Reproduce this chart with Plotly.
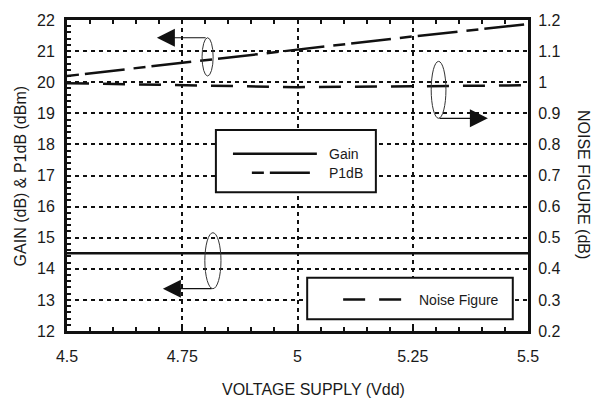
import plotly.graph_objects as go

# ---- data ----
vdd = [4.5, 4.75, 5.0, 5.25, 5.5]
gain_db = [14.5, 14.5, 14.5, 14.5, 14.5]
p1db_dbm = [20.2, 20.63, 21.05, 21.47, 21.87]
nf_db = [0.997, 0.99, 0.984, 0.987, 0.99]

x_ticks = [4.5, 4.75, 5.0, 5.25, 5.5]
x_ticklabels = ["4.5", "4.75", "5", "5.25", "5.5"]

INK = "#111111"
TXT = "#1a1a1a"
FONT = "Liberation Sans, Arial, Helvetica, sans-serif"
P1DB_DASH = "12px,6px,40px,9px"
NF_DASH = "22px,14px"

fig = go.Figure()
fig.add_trace(go.Scatter(x=vdd, y=gain_db, mode="lines", name="Gain",
                         line=dict(color=INK, width=2.5), yaxis="y"))
fig.add_trace(go.Scatter(x=vdd, y=p1db_dbm, mode="lines", name="P1dB",
                         line=dict(color=INK, width=2.5, dash=P1DB_DASH), yaxis="y"))
fig.add_trace(go.Scatter(x=vdd, y=nf_db, mode="lines", name="Noise Figure",
                         line=dict(color=INK, width=2.5, dash=NF_DASH), yaxis="y2"))

shapes = []
# legend box 1
shapes.append(dict(type="rect", xref="x", yref="y", x0=4.823, x1=5.170, y0=16.46, y1=18.46,
                   line=dict(color=INK, width=2), fillcolor="white", layer="above"))
shapes.append(dict(type="line", xref="x", yref="y", x0=4.860, x1=5.042, y0=17.70, y1=17.70,
                   line=dict(color=INK, width=2.5), layer="above"))
shapes.append(dict(type="line", xref="x", yref="y", x0=4.901, x1=5.033, y0=17.09, y1=17.09,
                   line=dict(color=INK, width=2.5, dash=P1DB_DASH), layer="above"))
# legend box 2
shapes.append(dict(type="rect", xref="x", yref="y", x0=5.021, x1=5.467, y0=12.38, y1=13.71,
                   line=dict(color=INK, width=2), fillcolor="white", layer="above"))
shapes.append(dict(type="line", xref="x", yref="y", x0=5.099, x1=5.229, y0=13.01, y1=13.01,
                   line=dict(color=INK, width=2.5, dash=NF_DASH), layer="above"))
# ellipses
for (x0, x1, y0, y1) in [(4.793, 4.817, 20.20, 21.43),
                         (5.290, 5.322, 18.84, 20.67),
                         (4.799, 4.834, 13.36, 15.16)]:
    shapes.append(dict(type="circle", xref="x", yref="y", x0=x0, x1=x1, y0=y0, y1=y1,
                       line=dict(color="#333333", width=1), layer="above"))

annotations = []
# arrows
for (xt, yt, xh, yh) in [(4.804, 21.43, 4.695, 21.43),
                         (5.305, 18.84, 5.413, 18.84),
                         (4.817, 13.36, 4.708, 13.36)]:
    annotations.append(dict(x=xh, y=yh, ax=xt, ay=yt, xref="x", yref="y", axref="x", ayref="y",
                            showarrow=True, arrowhead=2, arrowsize=3, arrowwidth=1.2,
                            arrowcolor=INK, text=""))
# legend texts
for (tx, ty, t) in [(5.063, 17.70, "Gain"), (5.063, 17.09, "P1dB"), (5.259, 13.01, "Noise Figure")]:
    annotations.append(dict(x=tx, y=ty, xref="x", yref="y", text=t, showarrow=False,
                            xanchor="left", yanchor="middle", font=dict(size=14, color=TXT, family=FONT)))
# axis titles
annotations.append(dict(x=-0.10, y=0.50, xref="paper", yref="paper", text="GAIN (dB) & P1dB (dBm)",
                        textangle=-90, showarrow=False, xanchor="center", yanchor="middle",
                        font=dict(size=16, color=TXT, family=FONT)))
annotations.append(dict(x=1.119, y=0.47, xref="paper", yref="paper", text="NOISE FIGURE (dB)",
                        textangle=90, showarrow=False, xanchor="center", yanchor="middle",
                        font=dict(size=16, color=TXT, family=FONT)))
annotations.append(dict(x=0.534, y=-0.187, xref="paper", yref="paper", text="VOLTAGE SUPPLY (Vdd)",
                        showarrow=False, xanchor="center", yanchor="middle",
                        font=dict(size=16, color=TXT, family=FONT)))

fig.update_layout(
    width=605, height=402,
    margin=dict(l=67, r=77, t=15, b=71),
    paper_bgcolor="white", plot_bgcolor="white",
    showlegend=False,
    font=dict(family=FONT, size=16, color=TXT),
    shapes=shapes, annotations=annotations,
    xaxis=dict(range=[4.5, 5.5], tickvals=x_ticks, ticktext=x_ticklabels,
               showgrid=True, gridcolor=INK, gridwidth=2, griddash="4px,4px",
               showline=True, linecolor=INK, linewidth=3, mirror="allticks",
               ticks="inside", ticklen=4, tickwidth=2, tickcolor=INK,
               minor=dict(dtick=0.05, ticks="inside", ticklen=4, tickwidth=2, tickcolor=INK, showgrid=False),
               zeroline=False, ticklabelstandoff=9, tickfont=dict(size=16)),
    yaxis=dict(range=[12, 22], dtick=1, tick0=12,
               showgrid=True, gridcolor=INK, gridwidth=2, griddash="4px,4px",
               showline=True, linecolor=INK, linewidth=3, mirror=True,
               ticks="inside", ticklen=4, tickwidth=2, tickcolor=INK,
               minor=dict(dtick=0.2, ticks="inside", ticklen=4, tickwidth=2, tickcolor=INK, showgrid=False),
               zeroline=False, ticklabelstandoff=6, tickfont=dict(size=16)),
    yaxis2=dict(range=[0.2, 1.2], dtick=0.1, tick0=0.2, overlaying="y", side="right",
                showgrid=False, showline=True, linecolor=INK, linewidth=3,
                ticks="", zeroline=False, ticklabelstandoff=4, tickfont=dict(size=16)),
)

fig.write_html("out.html", config={"displayModeBar": False},
               post_script="document.body.style.margin='0';document.body.style.overflow='hidden';")
